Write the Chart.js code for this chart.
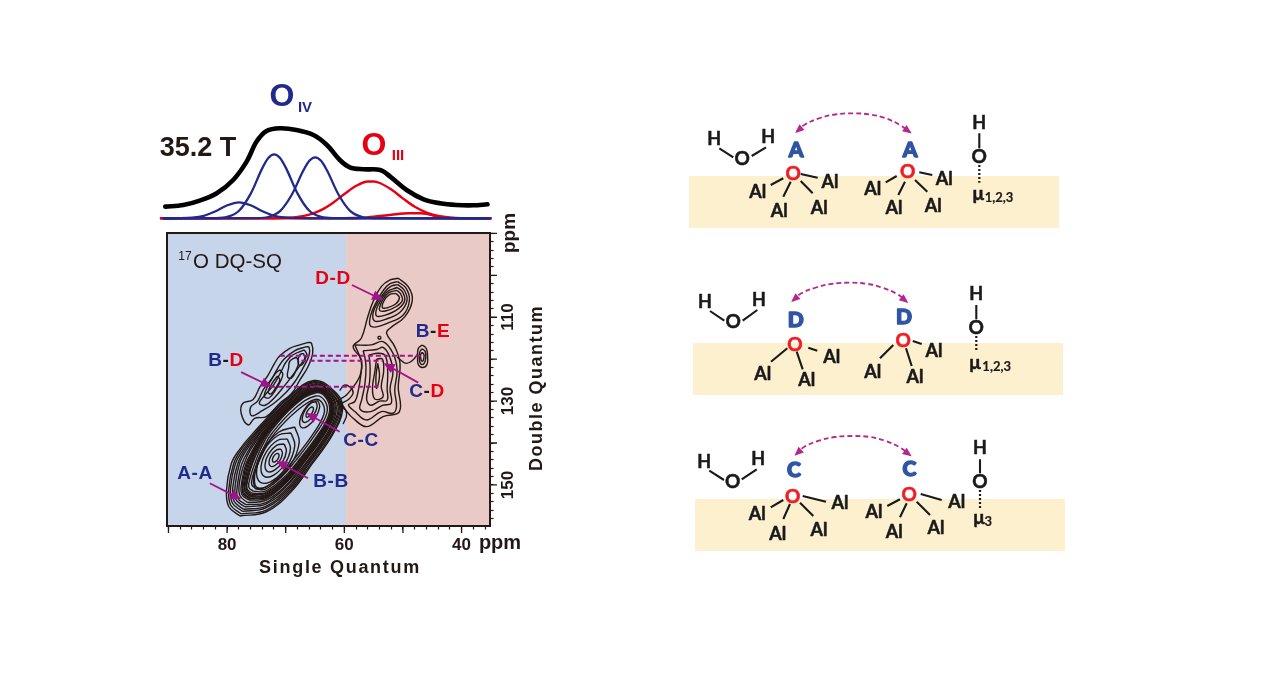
<!DOCTYPE html>
<html><head><meta charset="utf-8">
<style>html,body{margin:0;padding:0;background:#fff;width:1280px;height:694px;overflow:hidden}canvas{position:absolute}</style>
<script src="https://cdn.jsdelivr.net/npm/chart.js@4"></script></head><body>
<canvas id="spec" width="370" height="165" style="left:150px;top:70px"></canvas>
<canvas id="map" width="400" height="385" style="left:150px;top:200px"></canvas>
<canvas id="sch" width="400" height="470" style="left:680px;top:100px"></canvas>
<script>
// ---------- 1D spectrum (ppm, intensity)
const totalPpm=[90.6,87.5,84.7,81.8,79,76.7,75,73.3,71,68.2,65.3,63,60.8,59.1,56.8,53.9,52.2,49.4,46.5,43.7,40.9,38,35.6];
const totalInt=[11.7,13.3,17.7,25,38.3,56.7,76.7,87.3,90,88.3,83.3,73.3,58.3,51,49,48.3,41.7,28.3,19,15,13.3,13,14];
const oiv1Ppm=[91,82,80,78,76,74,73,72,71,70,68,66,64,62,35];
const oiv1Int=[0,0.2,1.4,7.5,24.7,50.4,60.3,64,60.3,50.4,24.7,7.5,1.4,0.2,0];
const oiv2Ppm=[91,75,73,71,69,67,66,65,64,63,61,59,57,55,35.5];
const oiv2Int=[0,0.2,1.3,7.1,23.5,48,57.5,61,57.5,48,23.5,7.1,1.3,0.2,0];
const oiv3Ppm=[91,88,86,84,82,80,78,76,74,72,70,68,66,35];
const oiv3Int=[0,0.1,0.6,2.5,7,13,16,13,7,2.5,0.6,0.1,0,0];
const oiii1Ppm=[91.5,72,70,68,66,64,62,60,58,56,55,54,52,50,48,46,44,42,40,34.9];
const oiii1Int=[0,0.1,0.5,1.4,3.7,8.2,15.4,24.3,32.5,36.8,36.8,35.3,28.7,19.7,11.5,5.7,2.4,0.8,0.2,0];
const oiii2Ppm=[91.5,60,57,55,52,49,47,46,45,44,42,34.9];
const oiii2Int=[0,0,0.5,1.5,3.5,5,5,4.6,3,1.2,0.2,0];

// ---------- 2D map: regions, dashed correlations, arrows
const oivRegion=[90.25,59.7], oiiiRegion=[59.7,35.15], regionDQ=[89.9,159.8];
const xTickLabels=[80,60,40], yTickLabels=[110,130,150];
const dashLines=[[71,119.2,46.5,119.2],[67.3,120.4,53.4,120.4],[72.7,126.6,54.2,126.6]];
const mapArrows=[[82.95,149.6,77.9,153.2],[66.2,148.4,71.3,144.5],[60.8,137.3,66.2,133.1],[77.6,123.1,72.7,126.4],[58.7,102.3,53.7,105.7],[47.4,125.6,53,121.2]];

// contour loops, each [sq,dq, sq,dq, ...]
const mainOuterLoops=[
[77.8,157.4,79.7,155.2,80.1,151.2,79.3,145,78,141.8,75.6,137.7,70,129.7,65.2,125.1,61.3,128.2,60.3,132.1,62,138,65.5,145,69,151.5,73.3,156.4],
[77.6,156.9,79.4,154.8,79.7,150.9,78.9,145,77.7,141.8,75.3,137.7,69.9,129.8,65.2,125.4,61.5,128.3,60.5,132.2,62.2,138,65.7,144.9,69.1,151.2,73.3,156],
[77.4,156.3,79.1,154.3,79.4,150.6,78.6,145,77.3,141.7,75.1,137.7,69.7,130,65.1,125.6,61.6,128.4,60.7,132.3,62.5,138,66,144.9,69.3,151,73.4,155.5],
[77.2,155.8,78.8,153.9,79,150.3,78.2,145,77,141.7,74.8,137.6,69.6,130.1,65.1,125.9,61.8,128.6,60.9,132.3,62.7,138,66.2,144.9,69.4,150.7,73.4,155.1],
[77,155.2,78.5,153.5,78.6,150,77.9,145,76.7,141.7,74.5,137.6,69.5,130.2,65,126.1,61.9,128.7,61.1,132.4,62.9,138,66.4,144.8,69.5,150.4,73.4,154.6],
[76.8,154.7,78.2,153.1,78.2,149.7,77.5,145,76.3,141.7,74.3,137.6,69.3,130.3,65,126.4,62.1,128.8,61.4,132.5,63.1,138,66.6,144.8,69.7,150.1,73.4,154.2],
[76.5,154.2,77.8,152.6,77.9,149.5,77.1,145,76,141.6,74,137.6,69.2,130.4,65,126.7,62.2,128.9,61.6,132.6,63.4,138,66.9,144.7,69.8,149.9,73.4,153.7],
[76.3,153.6,77.5,152.2,77.5,149.2,76.8,145,75.6,141.6,73.8,137.6,69,130.5,64.9,126.9,62.4,129,61.8,132.7,63.6,138,67.1,144.7,70,149.6,73.4,153.3],
[76.2,153.3,77.3,152,77.3,149,76.6,145,75.4,141.6,73.6,137.6,69,130.6,64.9,127.1,62.5,129,61.9,132.7,63.7,138,67.2,144.6,70,149.4,73.4,153],
[76.1,153.1,77.2,151.8,77.1,148.9,76.4,145,75.3,141.6,73.5,137.6,68.9,130.6,64.9,127.2,62.5,129.1,62,132.8,63.8,138,67.3,144.6,70.1,149.3,73.4,152.8],
[76,152.8,77,151.5,76.9,148.7,76.2,145,75.1,141.5,73.3,137.5,68.8,130.7,64.8,127.3,62.6,129.2,62.1,132.8,63.9,138,67.4,144.6,70.2,149.1,73.5,152.6],
[75.9,152.6,76.9,151.3,76.7,148.6,76,145,75,141.5,73.2,137.5,68.8,130.8,64.8,127.4,62.7,129.3,62.2,132.8,64,138,67.5,144.6,70.3,149,73.5,152.4],
[75.8,152.3,76.7,151.1,76.5,148.4,75.8,145,74.8,141.5,73.1,137.5,68.7,130.9,64.8,127.6,62.8,129.3,62.3,132.9,64.2,138,67.7,144.5,70.4,148.9,73.5,152.1],
[75.7,152,76.6,150.9,76.4,148.3,75.7,145,74.6,141.5,73,137.5,68.6,130.9,64.8,127.7,62.8,129.4,62.4,132.9,64.3,138,67.8,144.5,70.4,148.8,73.5,151.9],
[75.5,151.5,76.3,150.5,76,148,75.3,145,74.3,141.5,72.7,137.5,68.5,131,64.8,128,63,129.5,62.6,133,64.5,138,68,144.5,70.5,148.5,73.5,151.5],
[75,151,75.8,149.9,75.6,147.8,74.8,144.5,73.8,141.2,72.3,137.6,68.3,131.6,64.9,128.8,63.3,130,63,133,65,138,68.3,144.2,70.8,148.2,73.5,151],
[75.2,150.9,75.5,149.3,75.4,147.5,74.5,144.2,73.4,141,71.9,137.7,68,132.2,65,129.6,63.7,130.6,63.5,133.2,65.5,138.2,68.6,143.9,71,147.9,73.5,150.6]];
const mainPeakRings=[
[71.25,142.48,71.13,143.01,71.34,143.82,71.77,144.43,72.15,144.52,72.27,143.99,72.06,143.18,71.63,142.57],
[70.8,141.46,70.56,142.52,70.98,144.14,71.84,145.36,72.6,145.54,72.84,144.48,72.42,142.86,71.56,141.64],
[70.26,140.25,69.88,141.94,70.54,144.51,71.9,146.48,73.14,146.75,73.52,145.06,72.86,142.49,71.5,140.52],
[69.72,139.03,69.19,141.34,70.1,144.89,71.97,147.6,73.68,147.97,74.21,145.66,73.3,142.11,71.43,139.4],
[69.09,137.61,68.45,140.61,69.67,145.26,72.11,148.85,74.31,149.39,74.95,146.39,73.73,141.74,71.29,138.15],
[68.46,136.19,67.7,139.88,69.23,145.4,72.3,149.6,74.94,150.6,75.2,146.8,73.9,141.6,71.16,137.38]];
const ccRings=[
[65.36,131.38,65.27,131.97,65.54,132.92,66.03,133.67,66.44,133.82,66.53,133.23,66.26,132.28,65.77,131.53],
[64.82,130.16,64.64,131.34,65.18,133.24,66.16,134.74,66.98,135.04,67.16,133.86,66.62,131.96,65.64,130.46],
[64.5,129.9,64.2,131.4,64.9,133.9,66.2,135.9,67.3,136.3,67.6,134.7,66.9,132.2,65.6,130.2]];
const bdLoops=[
[66.2,116,67.6,116.6,69.3,117.4,71,119.2,71.9,121,73,123.8,74.4,126.6,75.6,129.7,77.3,130.5,77.6,132.9,76.4,135.7,75.3,134.1,73.3,133.7,71,130.5,69,128.2,67.6,125,66.2,121.8,65.4,118.6,65.6,116.2],
[66.5,117,68.5,118,70.3,120,71.3,122,72.3,124.5,73.8,127.2,74.8,130,76,131.5,75.8,133.5,74,132.3,72,130.5,70,128,68.5,125.5,67,122,66,119,66,117.2],
[66.8,117.8,68.8,119,70,120.8,70.8,123,72,126,73.5,128.5,74.5,130.5,73.5,131,72,129.3,70.3,126.5,68.8,123.8,67.3,121,66.4,119],
[67,118.6,67.6,119,67.9,120.5,67.6,121.5,67,121,66.7,119.8],
[71,122.5,71.8,123.5,72.7,125.5,73.5,127.8,73.6,129,72.8,129.2,71.8,127.5,70.8,125,70.5,123.5],
[71.4,124,72.2,125.5,73,127.8,72.5,128.3,71.7,126.8,71,125],
[68.2,119.5,69.3,120.5,69.5,122,69.7,124.2,69,124.5,68.2,122.5,67.8,120.7]];
const ddLoops=[
[50.8,100.7,49.1,102.7,48.4,105.9,49.7,109.9,52.2,112.6,52.8,113.8,51.4,117,50.5,121,50.8,126.6,50.6,132.5,53.4,133.7,56.2,136.1,58.5,134.1,59.8,132.1,61,130.1,59.6,128.5,57.4,124.2,57.1,120.2,58.5,117,57.1,115,56,109.9,55.1,106.3,53.7,102.7,52.2,101.1],
[50.9,101.5,49.5,103,48.9,106,50,109.5,52.8,111.5,54.5,112.3,55.6,112,55.5,109.5,54.6,106.5,53.3,103.5,52.2,102],
[50.9,102.2,49.8,103.5,49.3,106,50.5,108.8,53,110.5,54.8,110.9,55.1,109,54.2,106.2,53,103.8,52,102.6],
[51,102.9,50.1,103.9,49.7,106,50.8,108,53,109.5,54.5,109.7,54.5,108,53.7,105.8,52.7,103.9],
[51,103.6,50.4,104.4,50.1,106,51.2,107.5,53,108.5,54,108.3,53.5,106,52.5,104.2],
[51.2,104.3,50.6,105.3,51.2,106.8,52.6,107.7,53.5,107.7,53.2,106,52.3,104.6],
[53.8,114.6,54.2,114.6,54.2,115.1,53.8,115.1]];
const cdLoops=[
[58.2,116.6,55.4,116.6,53.4,115.8,51.7,118.6,51,122.6,51.4,127.4,51.1,131.3,51.7,132.9,53.7,132.5,56.2,134.5,58.2,132.5,59.3,130.9,58.2,130.1,57.6,127.4,57.2,123.8,57.1,120.6],
[56.8,118,54.5,117.7,53.4,117.2,52.3,119.3,51.7,123,52.2,127,52,130.5,53.5,131,55.5,132.5,57.3,132,57,129.5,56.5,126,56.3,122,56.5,119.5],
[55.8,119,54.2,118.6,53,119.2,52.6,123,52.7,127,52.7,129.8,54,130,55.5,131,56.2,129.5,55.7,125.5,55.6,122],
[54.5,120,53.5,120,53.3,123,53.7,126.5,53.4,129,54.8,129.5,55.2,127,54.8,123],
[54.3,121,54,124,54.5,127,54.6,124]];
const beLoops=[
[46.7,116.6,46,117.5,45.8,119.5,45.9,121.3,46.7,122,47.4,121.2,47.5,119.5,47.4,117.5],
[46.7,117.5,46.2,118.2,46.1,119.5,46.3,120.8,46.7,121.3,47.1,120.8,47.2,119.5,47.1,118.2],
[46.7,118.4,46.4,119,46.5,120.2,46.7,120.5,46.9,120.2,47,119]];
const openContours=[
[60.8,127.5,60,126.2,59,126.7,58.5,128,59.2,129.5,60.5,130.7,61,132],
[60.5,130.5,59.6,133,60.2,135.5],
[51,119.5,49.5,121,48.3,120.2,47.5,118.8]];

// ---------- surface schematic (diagram units)
const bands=[[689,1059,176,228],[693,1063,343,395],[695,1065,499,551]];
const bonds=[
[719.3,148.3,733.3,157.3],[751.7,156,766,147.3],[783.3,178.3,770.7,185],[790.7,181.7,783.3,196.7],[800.7,181,812.7,193.3],[800.7,174,817.7,177.7],
[896.7,176,885.7,182.3],[905,181.7,898.3,195],[915,180,927.3,191.7],[919.3,172.3,932.3,175],[979.3,133.3,979.3,148.3],
[710,311,724.3,320.7],[742.7,320.7,757.3,310],[787.3,348.3,771,361.7],[796.7,351.7,802.7,369.3],[808.3,347.7,817.3,350.7],
[893.3,345,880,358.3],[906,348.3,911.7,366],[912.7,341,921.7,344],[976.3,305,976.3,319.3],
[709.3,470.7,724,480],[741.7,479.3,756.7,469.3],[783.3,500,770.7,507.3],[790,504,783.3,519],[800,502.7,813.3,516],[802.7,496,826,501.7],
[900,499.3,887.3,506],[906.7,503.3,900,517.3],[916.7,501.7,930,515],[920.7,494,941.7,500],[980,459.3,980,473.3]];
const dottedBonds=[[979.3,165,979.3,182.7],[976.3,336,976.3,351.7],[980,490,980,508.3]];
const arcs=[
[796.7,131.7,805,124.5,820,118,835,114.5,853,113.3,870,114.5,885,118,900,125,910,132.3],
[792.7,300.7,801,293.5,816,287.5,832,283.8,850,282.7,867,283.8,882,287.5,897,294,906.7,301.7],
[796,454.3,804,447,819,440.7,835,437,853.3,436,870,437,885,440.7,900,447.5,910,455]];
const alSites=[[757.7,191.7],[779.3,210.7],[819.3,208.3],[830,181.7],[872.7,189.3],[894,208.3],[933.3,206],[944.3,179.3],
[762.7,374.3],[806.7,380],[831.7,357.3],[872.7,371.7],[915,376.7],[934,350.7],
[757.3,514],[777.7,534.3],[819,530],[840,503.3],[874,512.3],[894.3,532.3],[936,528.3],[956.7,501.7]];
const hSites=[[714.3,139],[768.3,136.7],[979.3,123.3],[705,301.7],[759,300],[976.3,294.3],[704.3,461.7],[758.3,459.3],[980,448.3]];
const waterO=[[742.3,159.3],[979.3,157.3],[733.3,322.3],[976.3,327.7],[732.7,481.7],[980,481.7]];
const surfaceO=[[793.3,174],[907.7,172.3],[795,345],[903.3,341],[792.7,496.7],[909.3,495]];
const siteLabels=[["A",796,150],["A",910,150],["D",795.7,320.7],["D",904,317.7],["C",794,470],["C",909.3,469.3]];
const muLabels=[["1,2,3",978.3,194,999,197.7],["1,2,3",975,363.3,996.7,366.7],["3",979,517.7,988.3,521.7]];

// ---------- colours
const INK="#231815",NAVY="#1f2a8c",RED="#e60012",MAG="#a3128a",ARC="#b5268e",BLUE2="#2f55a4";

// ---------- helpers
const pts=f=>{const o=[];for(let i=0;i<f.length;i+=2)o.push({x:f[i],y:f[i+1]});return o;};
const closed=f=>{const o=pts(f);o.push({...o[0]});return o;};
const zip=(a,b)=>a.map((v,i)=>({x:v,y:b[i]}));
const line=(data,o={})=>Object.assign({data,showLine:true,pointRadius:0,borderWidth:1.4,borderColor:INK,tension:0,clip:false},o);
const withOrder=ds=>ds.map((d,i)=>Object.assign(d,{order:ds.length-i}));
const gapped=list=>{const o=[];list.forEach(s=>{o.push({x:s[0],y:s[1]},{x:s[2],y:s[3]},{x:null,y:null});});return o;};

const arrowPlugin={id:"arrows",afterDatasetsDraw(c){const g=c.ctx;
 c.data.datasets.forEach((d,i)=>{if(!d.arrow)return;const p=c.getDatasetMeta(i).data,n=p.length;
  const head=(a,b)=>{const t=Math.atan2(a.y-b.y,a.x-b.x),L=d.arrow;g.save();g.translate(a.x,a.y);g.rotate(t);g.fillStyle=d.borderColor;g.beginPath();g.moveTo(2,0);g.lineTo(-L,-L*.55);g.lineTo(-L,L*.55);g.closePath();g.fill();g.restore();};
  head(p[n-1],p[n-2]);if(d.arrowBoth)head(p[0],p[1]);});}};
const framePlugin={id:"frame",afterDraw(c){if(!c.options.plugins.frame.on)return;const g=c.ctx,a=c.chartArea,xs=c.scales.x,ys=c.scales.y;
 g.save();g.strokeStyle=INK;g.lineWidth=2;g.strokeRect(a.left,a.top,a.width,a.height);g.lineWidth=1.3;g.beginPath();
 xs.ticks.forEach(t=>{if(t.value%10===0){const p=xs.getPixelForValue(t.value);g.moveTo(p,a.bottom);g.lineTo(p,a.bottom+7);}});
 ys.ticks.forEach(t=>{if(t.value%10===0){const p=ys.getPixelForValue(t.value);g.moveTo(a.right,p);g.lineTo(a.right+7,p);}});
 g.stroke();g.restore();}};
const textPlugin={id:"texts",afterDraw(c){const list=c.options.plugins.texts.items||[];const g=c.ctx,ox=c.canvas.offsetLeft,oy=c.canvas.offsetTop;
 list.forEach(t=>{g.save();g.font=t.font;g.textBaseline="middle";g.textAlign="left";if(t.sp)g.letterSpacing=t.sp;
  const segs=t.segs||[[t.text,t.color||INK]];const w=segs.reduce((s,q)=>s+g.measureText(q[0]).width,0);
  g.translate(t.x-ox,t.y-oy);if(t.rot)g.rotate(t.rot);let x=t.left?0:-w/2;
  segs.forEach(q=>{g.fillStyle=q[1];g.fillText(q[0],x,0);if(t.heavy){g.strokeStyle=q[1];g.lineWidth=t.heavy;g.lineJoin="round";g.strokeText(q[0],x,0);}x+=g.measureText(q[0]).width;});g.restore();});}};
Chart.register(arrowPlugin,framePlugin,textPlugin);
const base=(items,scales,extra={})=>({responsive:false,animation:false,events:[],scales,layout:extra.layout||{padding:0},
 plugins:{legend:{display:false},tooltip:{enabled:false},frame:{on:!!extra.frame},texts:{items}}});

// ---------- spectrum chart
const specItems=[
 {text:"O",color:NAVY,font:"bold 32px 'Liberation Sans'",x:282,y:97},
 {text:"IV",color:NAVY,font:"bold 15px 'Liberation Sans'",x:305,y:108},
 {text:"35.2 T",color:INK,font:"bold 27px 'Liberation Sans'",x:198,y:149},
 {text:"O",color:RED,font:"bold 32px 'Liberation Sans'",x:374,y:146},
 {text:"III",color:RED,font:"bold 15px 'Liberation Sans'",x:398,y:156}];
new Chart(document.getElementById("spec"),{type:"scatter",data:{datasets:withOrder([
 line(zip(oiii1Ppm,oiii1Int),{borderColor:RED,borderWidth:2.4,cubicInterpolationMode:"monotone"}),
 line(zip(oiii2Ppm,oiii2Int),{borderColor:RED,borderWidth:2.4,cubicInterpolationMode:"monotone"}),
 line(zip(oiv3Ppm,oiv3Int),{borderColor:NAVY,borderWidth:2.3,cubicInterpolationMode:"monotone"}),
 line(zip(oiv1Ppm,oiv1Int),{borderColor:NAVY,borderWidth:2.3,cubicInterpolationMode:"monotone"}),
 line(zip(oiv2Ppm,oiv2Int),{borderColor:NAVY,borderWidth:2.3,cubicInterpolationMode:"monotone"}),
 line(zip(totalPpm,totalInt),{borderColor:"#000",borderWidth:4.6,tension:.35,borderCapStyle:"round"})
])},options:base(specItems,{x:{type:"linear",reverse:true,min:30.05,max:93.19,display:false},y:{type:"linear",min:-16.7,max:148.3,display:false}})});

// ---------- 2D map chart
const fit=(k,v)=>function(s){s[k]=v;};
const lab=(segs,x,y)=>({segs,x,y,font:"bold 19px 'Liberation Sans'",sp:"0.6px"});
const mapItems=[
 {text:"17",color:INK,font:"12px 'Liberation Sans'",x:185,y:257},
 {text:"O DQ-SQ",color:INK,font:"20.5px 'Liberation Sans'",x:193,y:262,left:true},
 lab([["A-A",NAVY]],195,474),lab([["B-B",NAVY]],331,482),lab([["C-C",NAVY]],361,441),
 lab([["B",NAVY],["-",INK],["D",RED]],226,361),lab([["D-D",RED]],333,279),
 lab([["B",NAVY],["-",INK],["E",RED]],433,332),lab([["C",NAVY],["-",INK],["D",RED]],427,392),
 {text:"ppm",color:INK,font:"bold 20px 'Liberation Sans'",x:500,y:543},
 {text:"Single Quantum",color:INK,font:"bold 18px 'Liberation Sans'",x:340,y:568,sp:"1.7px"},
 {text:"Double Quantum",color:INK,font:"bold 18px 'Liberation Sans'",x:537,y:388,rot:-Math.PI/2,sp:"1.5px"},
 {text:"ppm",color:INK,font:"bold 19px 'Liberation Sans'",x:510,y:233,rot:-Math.PI/2},
 ...yTickLabels.map((v,i)=>({text:String(v),color:INK,font:"bold 17px 'Liberation Sans'",x:508,y:[317,401,485][i],rot:-Math.PI/2}))];
const contourSets=[...mainOuterLoops,...mainPeakRings,...ccRings,...bdLoops,...ddLoops,...cdLoops,...beLoops].map(l=>line(closed(l),{tension:.4}));
new Chart(document.getElementById("map"),{type:"scatter",data:{datasets:withOrder([
 line(zip(oivRegion,[regionDQ[0],regionDQ[0]]),{borderWidth:0,fill:{value:regionDQ[1]},backgroundColor:"#c6d5ea"}),
 line(zip(oiiiRegion,[regionDQ[0],regionDQ[0]]),{borderWidth:0,fill:{value:regionDQ[1]},backgroundColor:"#e9cac6"}),
 ...contourSets,
 ...openContours.map(l=>line(pts(l),{tension:.4})),
 ...dashLines.map(l=>line(pts(l),{borderColor:MAG,borderWidth:2,borderDash:[5,3]})),
 ...mapArrows.map(l=>line(pts(l),{borderColor:MAG,borderWidth:1.8,arrow:9}))
])},options:base(mapItems,{
 x:{type:"linear",reverse:true,min:35.15,max:90.25,afterFit:fit("height",59),
  border:{display:false},grid:{drawOnChartArea:false,tickLength:3.5,tickColor:INK,tickWidth:1.2},
  ticks:{stepSize:2,autoSkip:false,includeBounds:false,maxRotation:0,padding:6,color:INK,font:{family:"Liberation Sans",size:17,weight:"bold"},callback:v=>xTickLabels.includes(v)?String(v):""}},
 y:{type:"linear",position:"right",reverse:true,min:89.9,max:159.8,afterFit:fit("width",60),
  border:{display:false},grid:{drawOnChartArea:false,tickLength:3.5,tickColor:INK,tickWidth:1.2},
  ticks:{stepSize:2,autoSkip:false,includeBounds:false,callback:()=>""}}
},{frame:true,layout:{padding:{left:17,top:33,right:0,bottom:0}}})});

// ---------- schematic chart
const F="'Lato'";
const K="#1a1a1a";
const schItems=[
 ...alSites.map(p=>({text:"Al",color:K,font:`bold 18px ${F}`,x:p[0],y:p[1],heavy:.5})),
 ...hSites.map(p=>({text:"H",color:K,font:`bold 18px ${F}`,x:p[0],y:p[1],heavy:.5})),
 ...waterO.map(p=>({text:"O",color:K,font:`bold 19px ${F}`,x:p[0],y:p[1],heavy:.5})),
 ...surfaceO.map(p=>({text:"O",color:"#f01d24",font:`bold 19px ${F}`,x:p[0],y:p[1],heavy:.6})),
 ...siteLabels.map(p=>({text:p[0],color:BLUE2,font:`900 21px ${F}`,x:p[1],y:p[2],heavy:1.4})),
 ...muLabels.flatMap(p=>[{text:"μ",color:K,font:`bold 19px ${F}`,x:p[1],y:p[2],heavy:.5},{text:p[0],color:K,font:`bold 13px ${F}`,x:p[3],y:p[4],heavy:.2}])];
new Chart(document.getElementById("sch"),{type:"scatter",data:{datasets:withOrder([
 ...bands.map(b=>line(pts([b[0],b[2],b[1],b[2]]),{borderWidth:0,fill:{value:b[3]},backgroundColor:"#fdf0cf"})),
 line(gapped(bonds),{borderColor:K,borderWidth:2.1}),
 line(gapped(dottedBonds),{borderColor:K,borderWidth:2.2,borderDash:[2,2]}),
 ...arcs.map(a=>line(pts(a),{borderColor:ARC,borderWidth:1.8,borderDash:[5,3],tension:.4,arrow:7,arrowBoth:true}))
])},options:base(schItems,{x:{type:"linear",min:680,max:1080,display:false},y:{type:"linear",reverse:true,min:100,max:570,display:false}})});
</script></body></html>
